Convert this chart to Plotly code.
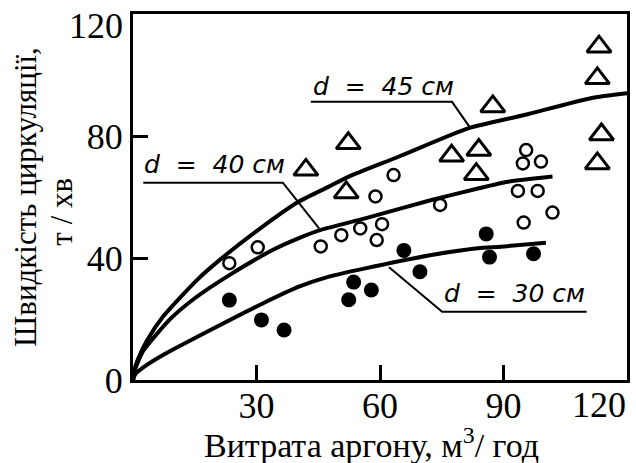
import plotly.graph_objects as go

# --- measured circulation rate, t/min, vs argon flow, m3/h ---
d30_x = [23.4, 31.2, 36.7, 53.6, 57.9, 52.4, 65.8, 69.7, 85.8, 86.6, 97.3]
d30_y = [26.2, 19.7, 16.4, 32.1, 29.5, 26.3, 42.5, 35.5, 47.9, 40.3, 41.4]

d40_x = [23.4, 30.3, 45.6, 50.6, 55.2, 60.5, 59.2, 58.9, 63.3, 74.6,
         93.5, 98.3, 101.9, 94.9, 95.5, 94.7, 99.1]
d40_y = [38.3, 43.5, 43.8, 47.5, 49.7, 51.1, 45.9, 60.2, 67.2, 57.4,
         62.0, 62.0, 54.9, 51.6, 75.4, 71.0, 71.6]

d45_x = [113.2, 112.8, 87.4, 52.3, 113.8, 112.8, 42.0, 77.4, 84.0, 83.4, 51.8]
d45_y = [109.3, 98.9, 89.7, 77.6, 80.5, 71.0, 68.9, 73.5, 75.4, 67.5, 61.5]

# --- fitted curves ---
fit45_x = [0, 0.4, 1.2, 3.3, 7.3, 15.4, 21.0, 31.5, 40.3, 47.6, 52.4, 64.5, 81.4, 95.1, 111.2, 120]
fit45_y = [0, 3.6, 6.8, 12.7, 20.8, 32.6, 39.3, 50.3, 58.5, 63.4, 66.7, 73.2, 82.5, 86.9, 92.4, 94.0]

fit40_x = [0, 0.4, 1.2, 2.5, 8.9, 15.0, 23.4, 33.9, 40.3, 45.6, 56.4, 72.5, 83.8, 91.1, 101.9]
fit40_y = [0, 3.0, 5.9, 9.6, 19.8, 26.8, 34.4, 42.6, 46.5, 49.2, 53.0, 59.0, 62.8, 65.0, 66.7]

fit30_x = [0, 0.5, 3.0, 7.3, 19.4, 31.5, 40.3, 47.6, 56.4, 72.5, 83.8, 89.4, 100.3]
fit30_y = [0, 1.8, 4.6, 8.2, 16.8, 25.1, 30.6, 33.9, 36.6, 41.0, 43.2, 43.7, 45.0]

# --- curve captions and their leader lines ---
captions = ["d = 45 см", "d = 40 см", "d = 30 см"]
caption_x = [43.2, 2.1, 75.0]
caption_y = [96.1, 70.5, 28.2]
leader45_x = [43.2, 77.5, 82.0]
leader45_y = [91.2, 91.2, 82.5]
leader40_x = [2.5, 36.4, 45.2]
leader40_y = [64.7, 64.7, 49.7]
leader30_x = [62.2, 75.1, 110.2]
leader30_y = [37.0, 22.4, 22.4]

x_ticks = [30, 60, 90, 120]
y_ticks = [0, 40, 80, 120]

SERIF = "Liberation Serif"
SANS = "DejaVu Sans"
NB = "\u00a0"

fig = go.Figure()

for fx, fy in [(fit45_x, fit45_y), (fit40_x, fit40_y), (fit30_x, fit30_y)]:
    fig.add_trace(go.Scatter(x=fx, y=fy, mode="lines",
                             line=dict(color="black", width=4, shape="spline", smoothing=0.6),
                             showlegend=False, hoverinfo="skip"))

for lx, ly in [(leader45_x, leader45_y), (leader40_x, leader40_y), (leader30_x, leader30_y)]:
    fig.add_trace(go.Scatter(x=lx, y=ly, mode="lines",
                             line=dict(color="black", width=2),
                             showlegend=False, hoverinfo="skip"))

fig.add_trace(go.Scatter(x=d45_x, y=d45_y, mode="markers", showlegend=False,
                         marker=dict(symbol="triangle-up-open", size=21, color="black",
                                     line=dict(width=3, color="black"))))
fig.add_trace(go.Scatter(x=d40_x, y=d40_y, mode="markers", showlegend=False,
                         marker=dict(symbol="circle-open", size=12, color="black",
                                     line=dict(width=2.5, color="black"))))
fig.add_trace(go.Scatter(x=d30_x, y=d30_y, mode="markers", showlegend=False,
                         marker=dict(symbol="circle", size=15, color="black",
                                     line=dict(width=0))))

for text, cx, cy in zip(captions, caption_x, caption_y):
    label = text.replace(" = ", NB * 2 + "=" + NB * 2).replace(" ", NB)
    fig.add_annotation(x=cx, y=cy, xref="x", yref="y", text=label,
                       showarrow=False, xanchor="left", yanchor="middle",
                       font=dict(family=SANS, size=25, color="black", style="italic"))

# last tick labels sit inside the frame corners
fig.add_annotation(x=113.2, y=0, xref="x", yref="y", text=str(x_ticks[-1]), showarrow=False,
                   xanchor="center", yanchor="middle", yshift=-25,
                   font=dict(family=SERIF, size=36, color="black"))
fig.add_annotation(x=0, y=y_ticks[-1], xref="paper", yref="y", text=str(y_ticks[-1]), showarrow=False,
                   xanchor="right", yanchor="middle", xshift=-8, yshift=-12,
                   font=dict(family=SERIF, size=36, color="black"))

# axis titles
fig.add_annotation(x=0.5, y=0, xref="paper", yref="paper", text="Витрата аргону, м<sup>3</sup>/ год",
                   showarrow=False, xanchor="center", yanchor="middle", yshift=-63, xshift=-9,
                   font=dict(family=SERIF, size=34, color="black"))
fig.add_annotation(x=0, y=0.5, xref="paper", yref="paper", text="Швидкість циркуляції,",
                   showarrow=False, textangle=-90, xanchor="center", yanchor="middle", xshift=-108,
                   font=dict(family=SERIF, size=31, color="black"))
fig.add_annotation(x=0, y=0.46, xref="paper", yref="paper", text="т / хв",
                   showarrow=False, textangle=-90, xanchor="center", yanchor="middle", xshift=-71,
                   font=dict(family=SERIF, size=31, color="black"))

axis_common = dict(showgrid=False, zeroline=False, showline=True, linecolor="black", linewidth=3,
                   mirror=True, ticks="inside", ticklen=15, tickwidth=2.5, tickcolor="black",
                   tickfont=dict(family=SERIF, size=36, color="black"))

fig.update_layout(
    width=636, height=463,
    margin=dict(l=133, r=6, t=14, b=83),
    paper_bgcolor="white", plot_bgcolor="white",
    xaxis=dict(range=[0, 120], tickvals=x_ticks[:-1], ticklabelstandoff=-8, **axis_common),
    yaxis=dict(range=[0, 120], tickvals=y_ticks[:-1], **axis_common),
)

fig.write_html("out.html")
